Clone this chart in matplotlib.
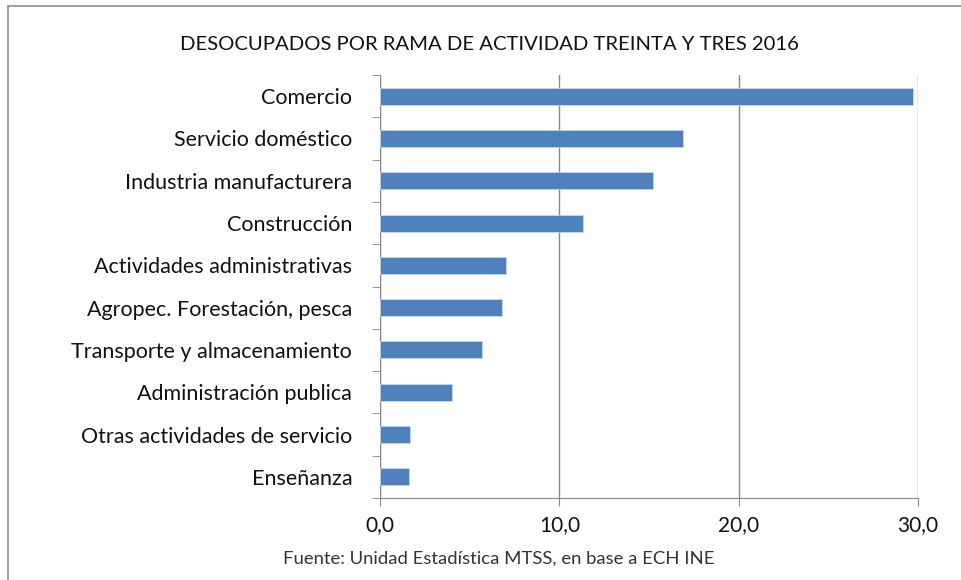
import matplotlib.pyplot as plt
from matplotlib.patches import Rectangle
from matplotlib.ticker import FuncFormatter, MultipleLocator

# Datos (desocupados por rama de actividad, Treinta y Tres 2016)
ramas = ['Comercio', 'Servicio doméstico', 'Industria manufacturera', 'Construcción',
         'Actividades administrativas', 'Agropec. Forestación, pesca',
         'Transporte y almacenamiento', 'Administración publica',
         'Otras actividades de servicio', 'Enseñanza']
valores = [29.7, 16.9, 15.2, 11.3, 7.0, 6.8, 5.7, 4.0, 1.7, 1.6]

plt.rcParams['font.family'] = ['Lato', 'DejaVu Sans']

fig = plt.figure(figsize=(9.61, 5.8), dpi=100)
W, H = 961, 580
ax = fig.add_axes([380 / W, 1 - 498 / H, (918 - 380) / W, (498 - 75) / H])

pos = list(range(len(ramas)))[::-1]
ax.barh(pos, valores, height=0.4, color='#4f81bd', edgecolor='#c6d6ea', linewidth=0.6, zorder=3)

ax.set_xlim(0, 30)
ax.set_ylim(-0.5, len(ramas) - 0.5)
ax.xaxis.set_major_locator(MultipleLocator(10))
ax.xaxis.set_major_formatter(FuncFormatter(lambda v, p: f'{v:.1f}'.replace('.', ',')))
ax.set_yticks(pos)
ax.set_yticklabels(ramas)
ax.set_yticks([p - 0.5 for p in pos] + [len(ramas) - 0.5], minor=True)

ax.grid(axis='x', color='#888888', linewidth=1, zorder=0)
for s in ['top', 'right']:
    ax.spines[s].set_visible(False)
for s in ['left', 'bottom']:
    ax.spines[s].set_color('#888888')
ax.tick_params(axis='y', which='major', length=0, pad=20, labelsize=15.5, labelcolor='#111111')
ax.tick_params(axis='y', which='minor', length=6, color='#888888')
ax.tick_params(axis='x', length=6, color='#888888', labelsize=15, labelcolor='#111111', pad=6)

fig.text(489 / W, 1 - 44 / H, 'DESOCUPADOS POR RAMA DE ACTIVIDAD TREINTA Y TRES 2016',
         ha='center', va='center', fontsize=14.6, color='#111111')
fig.text(499 / W, 1 - 559 / H, 'Fuente: Unidad Estadística MTSS, en base a ECH INE',
         ha='center', va='center', fontsize=13.3, color='#333333')

fig.patches.append(Rectangle((8 / W, -0.01), 1.0, 1 - 6 / H + 0.01, transform=fig.transFigure,
                             fill=False, edgecolor='#8c8c8c', linewidth=1.2))

plt.savefig('out.png', dpi=100)
